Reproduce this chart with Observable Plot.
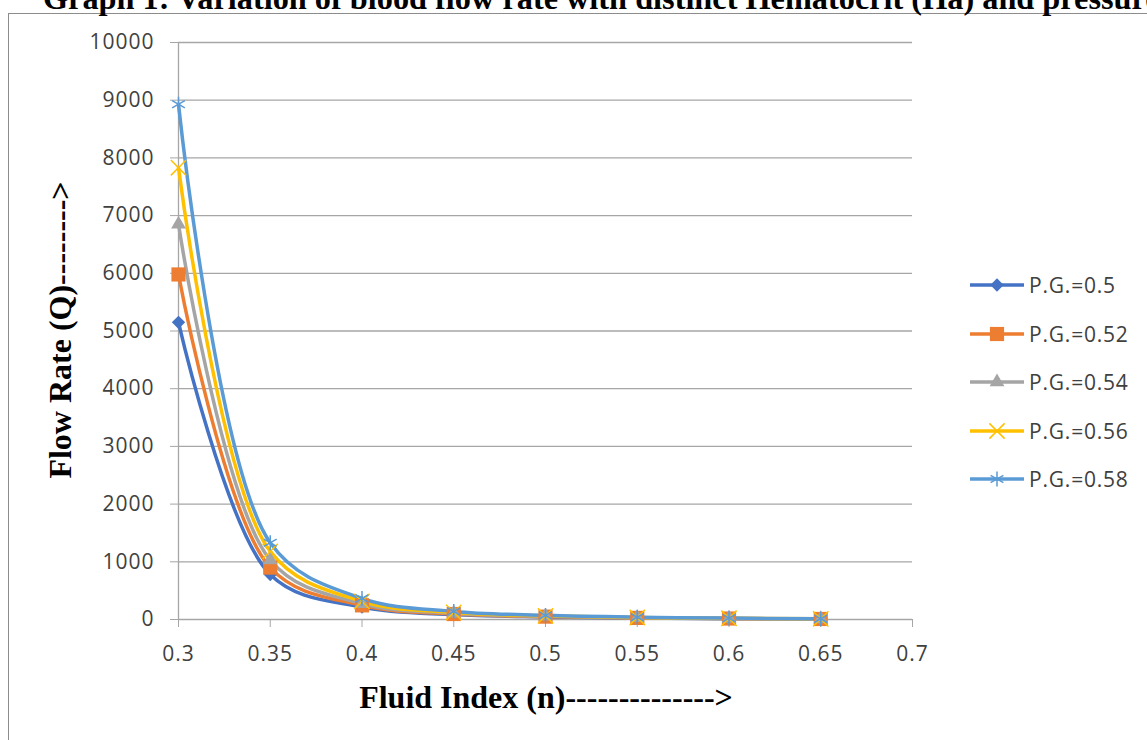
<!DOCTYPE html>
<html><head><meta charset="utf-8">
<script src="https://cdn.jsdelivr.net/npm/d3@7"></script>
<script src="https://cdn.jsdelivr.net/npm/@observablehq/plot@0.6"></script>
<style>
body{margin:0;background:#fff;}
#wrap{position:relative;width:1147px;height:740px;overflow:hidden;background:#fff;}
#frame{position:absolute;left:8px;top:13px;width:1300px;height:900px;border-left:1.5px solid #8c8c8c;border-top:1.5px solid #8c8c8c;}
#title{position:absolute;left:43px;top:-18px;font:bold 32.3px/32px "Liberation Serif",serif;white-space:nowrap;color:#000;}
#chart{position:absolute;left:0;top:0;}
#ylab{position:absolute;left:60px;top:330px;transform:translate(-50%,-50%) rotate(-90deg);font:bold 32px "Liberation Serif",serif;white-space:nowrap;color:#000;}
#xlab{position:absolute;left:546px;top:697px;transform:translate(-50%,-50%);font:bold 32px "Liberation Serif",serif;white-space:nowrap;color:#000;}
#legend{position:absolute;left:968px;top:261px;}
.lg{display:flex;align-items:center;height:48.5px;font:21px "Open Sans",sans-serif;letter-spacing:0.8px;color:#404040;}
.lg svg{margin-right:3px;}
</style>
</head><body>
<div id="wrap">
  <div id="frame"></div>
  <div id="title">Graph 1: Variation of blood flow rate with distinct Hematocrit (Ha) and pressure</div>
  <div id="chart"></div>
  <div id="ylab">Flow Rate (Q)--------&gt;</div>
  <div id="xlab">Fluid Index (n)--------------&gt;</div>
  <div id="legend"></div>
</div>
<script>
// Data
const fluidIndex = [0.3, 0.35, 0.4, 0.45, 0.5, 0.55, 0.6, 0.65];
const seriesNames = ["P.G.=0.5", "P.G.=0.52", "P.G.=0.54", "P.G.=0.56", "P.G.=0.58"];
const pg050 = [5150, 780, 215, 85, 45, 25, 15, 8];
const pg052 = [5980, 900, 245, 95, 50, 28, 17, 9];
const pg054 = [6850, 1030, 275, 108, 56, 31, 19, 10];
const pg056 = [7830, 1180, 315, 122, 63, 35, 21, 11];
const pg058 = [8930, 1330, 365, 140, 72, 40, 24, 12];
const xTicks = [0.3, 0.35, 0.4, 0.45, 0.5, 0.55, 0.6, 0.65, 0.7];
const yTicks = [0, 1000, 2000, 3000, 4000, 5000, 6000, 7000, 8000, 9000, 10000];

const seriesValues = [pg050, pg052, pg054, pg056, pg058];
const colors = ["#4472C4", "#ED7D31", "#A5A5A5", "#FFC000", "#5B9BD5"];
const symbols = ["diamond2", "square", "triangle", "times", "asterisk"];
const symbolR = [6, 8, 5.5, 7, 7];
const filled = [true, true, true, false, false];

const rows = seriesValues.map((vals, i) => fluidIndex.map((n, j) => ({n, q: vals[j], s: seriesNames[i]})));

const marks = [
  Plot.ruleY(yTicks, {stroke: "#a6a6a6", strokeWidth: 1.3}),
  Plot.ruleX([0.3], {stroke: "#a6a6a6", strokeWidth: 1.3}),
  Plot.axisY({ticks: yTicks, tickSize: 8, tickPadding: 16, tickFormat: "d", stroke: "#a6a6a6", fill: "#404040", label: null}),
  Plot.axisX({ticks: xTicks, tickSize: 8, tickPadding: 19, tickFormat: d => String(d), stroke: "#a6a6a6", fill: "#404040", label: null})
];
rows.forEach((r, i) => {
  marks.push(Plot.line(r, {x: "n", y: "q", stroke: colors[i], strokeWidth: 3.5, curve: "catmull-rom"}));
});
rows.forEach((r, i) => {
  marks.push(Plot.dot(r, filled[i]
    ? {x: "n", y: "q", symbol: symbols[i], r: symbolR[i], fill: colors[i], stroke: "none"}
    : {x: "n", y: "q", symbol: symbols[i], r: symbolR[i], stroke: colors[i], strokeWidth: 1.5, fill: "none"}));
});

const chart = Plot.plot({
  width: 1147, height: 740,
  marginLeft: 178, marginRight: 235, marginTop: 42, marginBottom: 121,
  x: {domain: [0.3, 0.7]},
  y: {domain: [0, 10000]},
  style: {fontFamily: "'Open Sans', sans-serif", fontSize: "21px", letterSpacing: "1px", background: "transparent", overflow: "visible"},
  marks
});
document.getElementById("chart").appendChild(chart);

// Legend
const leg = d3.select("#legend");
const symMap = {diamond2: d3.symbolDiamond2, square: d3.symbolSquare, triangle: d3.symbolTriangle, times: d3.symbolTimes, asterisk: d3.symbolAsterisk};
seriesNames.forEach((name, i) => {
  const row = leg.append("div").attr("class", "lg");
  const svg = row.append("svg").attr("width", 58).attr("height", 24);
  svg.append("line").attr("x1", 2).attr("x2", 56).attr("y1", 12).attr("y2", 12).attr("stroke", colors[i]).attr("stroke-width", 3.5);
  const p = svg.append("path").attr("transform", "translate(29,12)")
    .attr("d", d3.symbol(symMap[symbols[i]], Math.PI * symbolR[i] * symbolR[i])());
  if (filled[i]) p.attr("fill", colors[i]);
  else p.attr("fill", "none").attr("stroke", colors[i]).attr("stroke-width", 1.5);
  row.append("span").text(name);
});
</script>
</body></html>
